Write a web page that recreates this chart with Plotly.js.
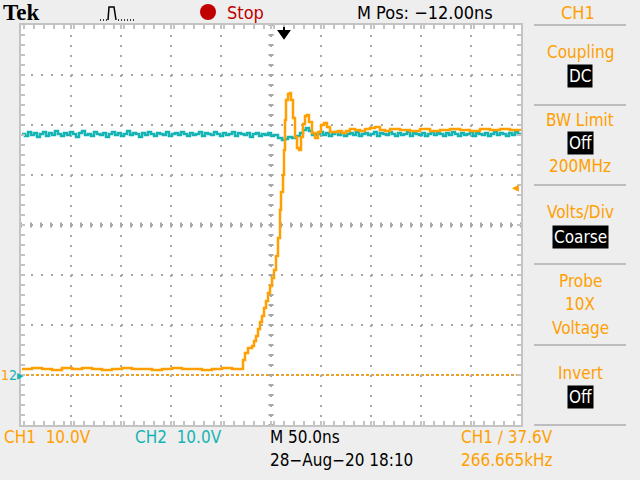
<!DOCTYPE html>
<html><head><meta charset="utf-8">
<script src="https://cdn.plot.ly/plotly-3.0.1.min.js"></script>
<style>html,body{margin:0;padding:0;background:#eeeeee;}#chart{width:640px;height:480px;}</style>
</head><body><div id="chart"></div>
<script>
// Time in ns relative to trigger, voltage in V (10 V/div, both grounds at same level)
const ch1Time = [-262,-252,-242,-232,-222,-212,-202,-192,-182,-172,-162,-152,-142,-132,-122,-112,-102,-92,-82,-72,-62,-52,-42,
  -41,-39,-36,-32,-30,-28,-26,-24,-22,-20,-18,-16,-14,-12,-10,-8,-6,-4,-3,-1,0,1,2,4,6,7,9,11,13,15,17,19,21,23,25,28,31,34,37,40,43,46,
  50,54,58,62,66,71,76,81,86,91,96,101,106,116,126,136,146,156,166,176,186,196,206,216,226,236];
const ch1Volts = [1.2,1.4,1.2,1.0,1.4,1.2,1.4,1.2,1.0,1.2,1.4,1.2,1.2,1.0,1.2,1.4,1.2,1.2,1.0,1.2,1.4,1.2,1.2,
  3.0,4.4,5.4,5.8,6.8,7.8,9.2,10.6,11.8,13.4,14.8,16.4,17.8,19.4,21.0,23.8,27.4,33.0,36.6,40.0,45.0,51.0,55.0,56.2,56.4,55.0,51.4,47.6,45.4,45.0,47.6,50.2,51.8,52.0,50.6,48.4,47.4,48.6,50.0,50.4,49.6,48.6,
  48.6,48.8,48.4,48.8,49.2,49.0,48.8,49.2,49.4,49.6,49.0,48.8,49.2,49.0,48.8,49.2,48.8,49.0,49.2,49.0,48.8,49.2,49.0,49.2,49.0,48.8];
const ch2Time = [-262,-259,-256,-253,-250,-247,-244,-241,-238,-235,-232,-229,-226,-223,-220,-217,-214,-211,-208,-205,-202,-199,-196,-193,-190,-187,-184,-181,-178,-175,-172,-169,-166,-163,-160,-157,-154,-151,-148,-145,-142,-139,-136,-133,-130,-127,-124,-121,-118,-115,-112,-109,-106,-103,-100,-97,-94,-91,-88,-85,-82,-79,-76,-73,-70,-67,-64,-61,-58,-55,-52,-49,-46,-43,-40,-37,-34,-31,-28,-25,-22,-19,-16,-13,-10,-6,-2,1,4,8,12,16,19,22,25,28,32,36,39,42,45,48,51,54,57,60,63,66,69,72,75,78,81,84,87,90,93,96,99,102,105,108,111,114,117,120,123,126,129,132,135,138,141,144,147,150,153,156,159,162,165,168,171,174,177,180,183,186,189,192,195,198,201,204,207,210,213,216,219,222,225,228,231,234,237];
const ch2Volts = [48.2,47.8,48.6,48.0,48.4,47.6,48.2,48.6,47.8,48.4,48.0,48.8,48.2,47.8,48.4,48.0,48.6,48.2,47.6,48.4,48.8,48.0,48.2,47.8,48.6,48.2,48.0,48.4,47.6,48.2,48.6,48.0,48.4,47.8,48.2,48.8,48.0,48.4,48.2,47.6,48.4,48.0,48.6,48.2,47.8,48.4,48.2,48.0,48.6,47.8,48.2,48.4,48.0,48.6,48.2,47.8,48.4,48.0,48.2,48.6,47.8,48.4,48.2,48.0,48.6,48.2,47.8,48.4,48.0,48.2,48.6,47.8,48.4,48.2,48.0,48.4,47.6,48.2,48.4,47.8,48.2,48.0,48.4,47.8,48.0,47.4,47.0,47.2,47.6,47.4,47.8,48.4,49.0,49.4,48.8,48.0,48.2,48.6,48.0,48.4,47.8,48.2,48.6,48.0,48.4,47.8,48.2,48.4,48.0,48.6,47.8,48.2,48.4,48.0,48.2,48.6,47.8,48.4,48.2,48.0,48.6,48.2,47.8,48.4,48.0,48.2,48.6,47.8,48.4,48.2,48.0,48.4,47.8,48.2,48.6,48.0,48.4,48.2,47.8,48.4,48.0,48.6,48.2,47.8,48.4,48.0,48.2,48.6,47.8,48.4,48.2,48.0,48.4,47.8,48.2,48.6,48.0,48.4,48.2,47.8,48.4,48.0,48.6,48.2,47.8,48.4];
const xRange = [-263, 237];   // 10 div x 50 ns, M Pos -12 ns
const yRange = [-10, 70];     // 8 div x 10 V, ground at -3 div
const triggerLevel = 37.6;

const ORANGE = '#ffa000', CYAN = '#14b4b4', GRIDC = '#a8a8a8', EDGE = '#c4c4c4';
const FONT = 'Liberation Sans Narrow, DejaVu Sans Condensed, Arial Narrow, sans-serif';
const L = 21, T = 25, W = 500, H = 400;
const px = X => (X - L) / W, py = Y => (T + H - Y) / H;

const traces = [
  {x: ch2Time, y: ch2Volts, type: 'scatter', mode: 'lines', line: {color: CYAN, width: 2.5, shape: 'hv'}, hoverinfo: 'skip'},
  {x: ch1Time, y: ch1Volts, type: 'scatter', mode: 'lines', line: {color: ORANGE, width: 2.5, shape: 'hv'}, hoverinfo: 'skip'}
];

const ann = [];
function A(text, X, Y, o) {
  o = o || {};
  ann.push(Object.assign({text: text, xref: 'paper', yref: 'paper', x: px(X), y: py(Y), showarrow: false,
    xanchor: 'center', yanchor: 'middle', font: {family: FONT, size: 17, color: '#000'}}, o));
}
function F(size, color, fam) { return {family: fam || FONT, size: size, color: color}; }

A('<b>Tek</b>', 2, 13, {xanchor: 'left', font: F(23, '#000', 'Liberation Serif, serif'), borderpad: 0});
A('Stop', 225, 12, {xanchor: 'left', font: F(18, '#c00000')});
A('M Pos: \u221212.00ns', 425, 12, {font: F(18, '#000')});
A('CH1', 578, 12, {font: F(18, ORANGE)});
A('Coupling', 580, 52, {font: F(17, ORANGE)});
A('DC', 580, 76, {font: F(17, '#fff'), bgcolor: '#000', borderpad: 1});
A('BW Limit', 580, 120, {font: F(17, ORANGE)});
A('Off', 580, 143, {font: F(17, '#fff'), bgcolor: '#000', borderpad: 1});
A('200MHz', 580, 166, {font: F(17, ORANGE)});
A('Volts/Div', 580, 212, {font: F(17, ORANGE)});
A('Coarse', 580, 237, {font: F(17, '#fff'), bgcolor: '#000', borderpad: 1});
A('Probe', 580, 281, {font: F(17, ORANGE)});
A('10X', 580, 304, {font: F(17, ORANGE)});
A('Voltage', 580, 328, {font: F(17, ORANGE)});
A('Invert', 580, 373, {font: F(17, ORANGE)});
A('Off', 580, 397, {font: F(17, '#fff'), bgcolor: '#000', borderpad: 1});
A('CH1  10.0V', 2, 437, {xanchor: 'left', font: F(17, ORANGE)});
A('CH2  10.0V', 133, 437, {xanchor: 'left', font: F(17, CYAN)});
A('M 50.0ns', 268, 437, {xanchor: 'left', font: F(17, '#000')});
A('CH1 \u2215 ' + triggerLevel.toFixed(1) + 'V', 459, 437, {xanchor: 'left', font: F(17, ORANGE)});
A('28\u2212Aug\u221220 18:10', 268, 460, {xanchor: 'left', font: F(17, '#000')});
A('266.665kHz', 459, 460, {xanchor: 'left', font: F(17, ORANGE)});
// ground marker (CH1 and CH2 share the same ground level) and trigger level marker
A('<span style="color:' + ORANGE + '">1</span>2\u25B8', 0, 375, {xanchor: 'left', font: F(14, CYAN, 'DejaVu Sans Condensed, sans-serif'), borderpad: 0});
ann.push({text: '\u25C2', xref: 'paper', yref: 'y', x: px(521), y: triggerLevel, xanchor: 'right', yanchor: 'middle', showarrow: false, font: F(14, ORANGE, 'DejaVu Sans, sans-serif')});

const shapes = [];
// graticule center cross tick marks
let pv = '', ph = '';
const cx = (xRange[0] + xRange[1]) / 2, cy = (yRange[0] + yRange[1]) / 2;
for (let v = yRange[0]; v <= yRange[1] + 1e-9; v += 2) pv += `M${cx - 2.5},${v} L${cx + 2.5},${v} `;
for (let t = xRange[0]; t <= xRange[1] + 1e-9; t += 10) ph += `M${t},${cy - 0.5} L${t},${cy + 0.5} `;
shapes.push({type: 'path', xref: 'x', yref: 'y', path: pv, line: {color: GRIDC, width: 2}, layer: 'below'});
shapes.push({type: 'path', xref: 'x', yref: 'y', path: ph, line: {color: GRIDC, width: 2}, layer: 'below'});
// CH1 ground reference dotted line
shapes.push({type: 'line', xref: 'paper', yref: 'y', x0: 0, x1: 1, y0: 0, y1: 0, line: {color: ORANGE, width: 2, dash: '3px,2px'}, layer: 'below'});
// right panel separators
[25, 105, 185, 264, 345, 425].forEach(Y => shapes.push({type: 'line', xref: 'paper', yref: 'paper', x0: px(534), x1: px(626), y0: py(Y), y1: py(Y), line: {color: '#bdbdbd', width: 2}}));
// stop indicator dot
shapes.push({type: 'circle', xref: 'paper', yref: 'paper', x0: px(200), x1: px(216), y0: py(4), y1: py(20), fillcolor: '#c00000', line: {width: 0}});
// acquisition pulse icon
shapes.push({type: 'path', xref: 'paper', yref: 'paper', path: `M${px(108)},${py(20)} L${px(109)},${py(7)} L${px(114)},${py(7)} L${px(116)},${py(20)}`, line: {color: '#000', width: 1.5}});
shapes.push({type: 'line', xref: 'paper', yref: 'paper', x0: px(100), x1: px(107), y0: py(20), y1: py(20), line: {color: '#000', width: 1.5, dash: '1px,2px'}});
shapes.push({type: 'line', xref: 'paper', yref: 'paper', x0: px(118), x1: px(136), y0: py(20), y1: py(20), line: {color: '#000', width: 1.5, dash: '1px,2px'}});
// trigger position marker
shapes.push({type: 'path', xref: 'x', yref: 'paper', path: `M0,${py(27)} L0,${py(32)} M-5,${py(31)} L5,${py(31)} L0,${py(38)} Z`, fillcolor: '#000', line: {color: '#000', width: 2}});

const axisCommon = {showticklabels: false, zeroline: false, showline: true, linecolor: EDGE, linewidth: 2, mirror: 'ticks',
  ticks: 'inside', ticklen: 4, tickwidth: 2, tickcolor: EDGE, showgrid: true, gridcolor: GRIDC, gridwidth: 2, griddash: '2px,8px', fixedrange: true};
const layout = {
  width: 640, height: 480, margin: {l: L, r: 640 - L - W, t: T, b: 480 - T - H, pad: 0},
  paper_bgcolor: '#eeeeee', plot_bgcolor: '#ffffff', showlegend: false,
  xaxis: Object.assign({}, axisCommon, {range: xRange, tick0: cx, dtick: 50, minor: {dtick: 10, ticks: 'inside', ticklen: 4, tickwidth: 2, tickcolor: EDGE, showgrid: false}}),
  yaxis: Object.assign({}, axisCommon, {range: yRange, tick0: 0, dtick: 10, minor: {dtick: 2, ticks: 'inside', ticklen: 4, tickwidth: 2, tickcolor: EDGE, showgrid: false}}),
  annotations: ann, shapes: shapes
};
Plotly.newPlot('chart', traces, layout, {staticPlot: true, displayModeBar: false});
</script></body></html>
